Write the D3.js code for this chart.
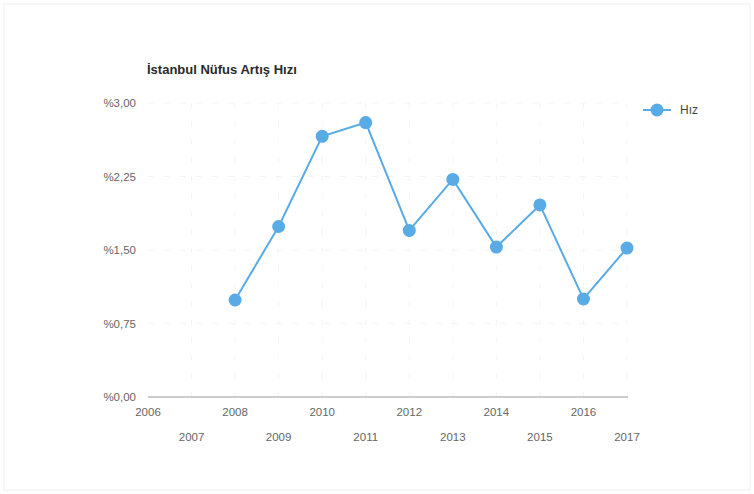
<!DOCTYPE html>
<html>
<head>
<meta charset="utf-8">
<script src="https://cdn.jsdelivr.net/npm/d3@7"></script>
<style>
  body { margin: 0; background: #fff; }
  svg { font-family: "Liberation Sans", Arial, sans-serif; }
</style>
</head>
<body>
<div id="chart"></div>
<script>
const years = ["2006", "2007", "2008", "2009", "2010", "2011", "2012", "2013", "2014", "2015", "2016", "2017"];
const hiz = [null, null, 0.99, 1.74, 2.66, 2.80, 1.70, 2.22, 1.53, 1.96, 1.00, 1.52];
const yTicks = [0, 0.75, 1.5, 2.25, 3];
const title = "İstanbul Nüfus Artış Hızı";
const seriesName = "Hız";

const width = 754, height = 494;
const lineColor = "#59abe6";

const svg = d3.select("#chart").append("svg")
  .attr("width", width)
  .attr("height", height);

// faint scan frame
svg.append("rect")
  .attr("x", 4).attr("y", 4)
  .attr("width", width - 8).attr("height", height - 8)
  .attr("fill", "none")
  .attr("stroke", "#f0f0f0");

const x = d3.scalePoint()
  .domain(years)
  .range([148, 627]);

const y = d3.scaleLinear()
  .domain([0, 3])
  .range([397, 103]);

const fmt = v => "%" + d3.format(".2f")(v).replace(".", ",");

// grid
svg.append("g")
  .selectAll("line")
  .data(yTicks.slice(1))
  .join("line")
  .attr("x1", 148).attr("x2", 628)
  .attr("y1", d => y(d)).attr("y2", d => y(d))
  .attr("stroke", "#f2f2f2")
  .attr("stroke-dasharray", "6,10");

svg.append("g")
  .selectAll("line")
  .data(years.slice(1))
  .join("line")
  .attr("x1", d => x(d)).attr("x2", d => x(d))
  .attr("y1", 103).attr("y2", 397)
  .attr("stroke", "#f4f4f4")
  .attr("stroke-dasharray", "6,12");

// y axis labels
const yAxis = svg.append("g")
  .attr("transform", "translate(136,0)")
  .call(d3.axisLeft(y).tickValues(yTicks).tickFormat(fmt).tickSize(0).tickPadding(0));
yAxis.select(".domain").remove();
yAxis.selectAll("text")
  .attr("fill", "#666")
  .style("font-size", "11.5px");

// baseline
svg.append("line")
  .attr("x1", 148).attr("x2", 628)
  .attr("y1", y(0)).attr("y2", y(0))
  .attr("stroke", "#999")
  .attr("stroke-width", 1);

// x axis labels, staggered
svg.append("g")
  .selectAll("text")
  .data(years)
  .join("text")
  .attr("x", d => x(d))
  .attr("y", (d, i) => i % 2 === 0 ? 416 : 441)
  .attr("text-anchor", "middle")
  .attr("fill", "#666")
  .style("font-size", "11.5px")
  .text(d => d);

// line
const pts = years.map((yr, i) => ({ yr, v: hiz[i] })).filter(d => d.v !== null);

svg.append("path")
  .datum(pts)
  .attr("fill", "none")
  .attr("stroke", lineColor)
  .attr("stroke-width", 2)
  .attr("d", d3.line().x(d => x(d.yr)).y(d => y(d.v)));

svg.append("g")
  .selectAll("circle")
  .data(pts)
  .join("circle")
  .attr("cx", d => x(d.yr))
  .attr("cy", d => y(d.v))
  .attr("r", 6.5)
  .attr("fill", lineColor);

// title
svg.append("text")
  .attr("x", 147).attr("y", 74)
  .attr("fill", "#2a2a2a")
  .style("font-size", "13px")
  .style("font-weight", "bold")
  .text(title);

// legend
const lg = svg.append("g").attr("transform", "translate(657,110)");
lg.append("line")
  .attr("x1", -14).attr("x2", 14)
  .attr("stroke", lineColor).attr("stroke-width", 2);
lg.append("circle").attr("r", 6.5).attr("fill", lineColor);
lg.append("text")
  .attr("x", 23).attr("y", 4)
  .attr("fill", "#444")
  .style("font-size", "12px")
  .text(seriesName);
</script>
</body>
</html>
